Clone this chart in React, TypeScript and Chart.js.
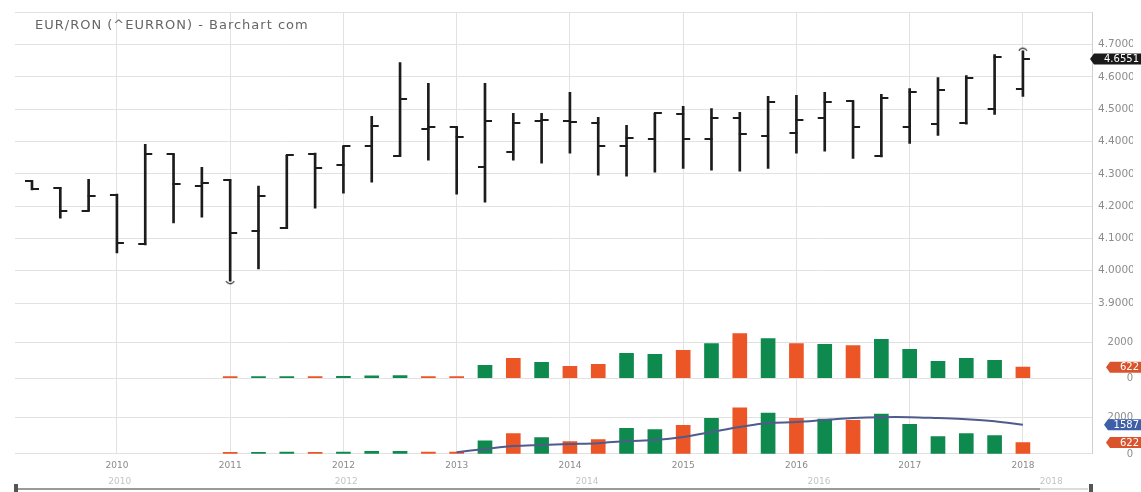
import React, { useEffect, useRef } from 'react';
import { Chart, registerables } from 'chart.js';

Chart.register(...registerables);

// ---- data (quarterly bars, 2009 Q2 .. 2018 Q1) ----
const quarters = [
  '2009-Q2', '2009-Q3', '2009-Q4',
  '2010-Q1', '2010-Q2', '2010-Q3', '2010-Q4',
  '2011-Q1', '2011-Q2', '2011-Q3', '2011-Q4',
  '2012-Q1', '2012-Q2', '2012-Q3', '2012-Q4',
  '2013-Q1', '2013-Q2', '2013-Q3', '2013-Q4',
  '2014-Q1', '2014-Q2', '2014-Q3', '2014-Q4',
  '2015-Q1', '2015-Q2', '2015-Q3', '2015-Q4',
  '2016-Q1', '2016-Q2', '2016-Q3', '2016-Q4',
  '2017-Q1', '2017-Q2', '2017-Q3', '2017-Q4',
  '2018-Q1',
];

const opens = [
  4.277, 4.256, 4.185, 4.234, 4.083, 4.360, 4.262, 4.280, 4.123, 4.132, 4.360, 4.327,
  4.385, 4.354, 4.438, 4.444, 4.320, 4.367, 4.465, 4.465, 4.456, 4.385, 4.407, 4.484,
  4.407, 4.472, 4.416, 4.425, 4.472, 4.524, 4.354, 4.444, 4.453, 4.456, 4.502, 4.564,
];
const highs = [
  4.279, 4.258, 4.283, 4.237, 4.391, 4.362, 4.320, 4.282, 4.262, 4.357, 4.364, 4.385,
  4.478, 4.644, 4.580, 4.446, 4.580, 4.487, 4.487, 4.552, 4.475, 4.450, 4.487, 4.509,
  4.502, 4.490, 4.540, 4.543, 4.552, 4.526, 4.546, 4.564, 4.598, 4.604, 4.669, 4.681,
];
const lows = [
  4.250, 4.163, 4.185, 4.055, 4.080, 4.148, 4.166, 3.968, 4.006, 4.130, 4.194, 4.240,
  4.274, 4.354, 4.342, 4.237, 4.212, 4.342, 4.333, 4.364, 4.296, 4.293, 4.305, 4.317,
  4.311, 4.308, 4.317, 4.364, 4.370, 4.348, 4.352, 4.394, 4.419, 4.454, 4.484, 4.540,
];
const closes = [
  4.252, 4.185, 4.231, 4.086, 4.360, 4.268, 4.271, 4.117, 4.231, 4.357, 4.317, 4.385,
  4.447, 4.533, 4.444, 4.413, 4.462, 4.456, 4.468, 4.459, 4.385, 4.410, 4.487, 4.407,
  4.472, 4.422, 4.521, 4.468, 4.521, 4.444, 4.536, 4.552, 4.558, 4.598, 4.663, 4.6551,
];

const volumes = [
  null, null, null, null, null, null, null,
  90, 90, 100, 90, 110, 140, 150, 100, 100,
  720, 1110, 890, 670, 780, 1390, 1330, 1560, 1940, 2500, 2220, 1940, 1890, 1830,
  2170, 1610, 940, 1110, 1000, 622,
];
// 'u' = green (up), 'd' = red (down)
const volumeDirection = [
  '', '', '', '', '', '', '',
  'd', 'u', 'u', 'd', 'u', 'u', 'u', 'd', 'd',
  'u', 'd', 'u', 'd', 'd', 'u', 'u', 'd', 'u', 'd', 'u', 'd', 'u', 'd',
  'u', 'u', 'u', 'u', 'u', 'd',
];
const volumeAverage = [
  null, null, null, null, null, null, null, null, null, null, null, null, null, null, null,
  100, 270, 430, 490, 540, 590, 700, 760, 920, 1190, 1460, 1680, 1730, 1840, 1950,
  2000, 2000, 1950, 1890, 1780, 1587,
];

const priceTicks = [3.9, 4.0, 4.1, 4.2, 4.3, 4.4, 4.5, 4.6, 4.7, 4.8];
const volumeTicks = [0, 2000];
const navigatorLabels = ['2010', '2012', '2014', '2016', '2018'];
const title = 'EUR/RON (^EURRON) - Barchart com';

const GREEN = '#0f8a4f';
const RED = '#ec5526';
const GRID = '#e2e2e2';
const FONT = 'DejaVu Sans';

function tickImage(side: 'left' | 'right') {
  const c = document.createElement('canvas');
  c.width = 16;
  c.height = 2;
  const g = c.getContext('2d')!;
  g.fillStyle = '#1c1c1c';
  if (side === 'left') g.fillRect(1, 0, 8, 2);
  else g.fillRect(7, 0, 8, 2);
  return c;
}

function arcImage(kind: 'low' | 'high') {
  const c = document.createElement('canvas');
  c.width = 12;
  c.height = 12;
  const g = c.getContext('2d')!;
  g.strokeStyle = '#333';
  g.lineWidth = 1.3;
  g.beginPath();
  if (kind === 'low') g.arc(6, 4, 4.5, 0.15 * Math.PI, 0.85 * Math.PI);
  else g.arc(6, 8, 4.5, 1.15 * Math.PI, 1.85 * Math.PI);
  g.stroke();
  return c;
}

function drawTag(ctx: CanvasRenderingContext2D, left: number, right: number, y: number, text: string, bg: string) {
  const h = 11;
  ctx.save();
  ctx.fillStyle = bg;
  ctx.beginPath();
  ctx.moveTo(left, y);
  ctx.lineTo(left + 4, y - h / 2);
  ctx.lineTo(right, y - h / 2);
  ctx.lineTo(right, y + h / 2);
  ctx.lineTo(left + 4, y + h / 2);
  ctx.closePath();
  ctx.fill();
  ctx.fillStyle = '#fff';
  ctx.font = `10px ${FONT}`;
  ctx.textAlign = 'right';
  ctx.textBaseline = 'middle';
  ctx.fillText(text, right - 2, y + 0.5);
  ctx.restore();
}

const overlay = {
  id: 'overlay',
  afterDraw(chart: any) {
    const ctx = chart.ctx as CanvasRenderingContext2D;
    const x = chart.scales.x;
    const y = chart.scales.y;
    const v1 = chart.scales.v1;
    const v2 = chart.scales.v2;
    const last = quarters.length - 1;
    ctx.save();
    // title
    ctx.fillStyle = '#666';
    ctx.font = `13px ${FONT}`;
    (ctx as any).letterSpacing = '1px';
    ctx.textBaseline = 'middle';
    ctx.textAlign = 'left';
    ctx.fillText(title, 35, 26);
    (ctx as any).letterSpacing = '0px';

    // last-value tags
    drawTag(ctx, 1090, 1141, y.getPixelForValue(closes[last]), closes[last].toFixed(4), '#1a1a1a');
    drawTag(ctx, 1106, 1141, v1.getPixelForValue(volumes[last] as number), String(volumes[last]), '#d9532c');
    drawTag(ctx, 1104, 1141, v2.getPixelForValue(volumeAverage[last] as number), String(volumeAverage[last]), '#3d5fa8');
    drawTag(ctx, 1106, 1141, v2.getPixelForValue(volumes[last] as number), String(volumes[last]), '#d9532c');

    // navigator
    ctx.strokeStyle = '#9a9a9a';
    ctx.lineWidth = 2;
    ctx.beginPath();
    ctx.moveTo(18, 489);
    ctx.lineTo(1040, 489);
    ctx.stroke();
    ctx.strokeStyle = '#dcdcdc';
    ctx.beginPath();
    ctx.moveTo(1040, 489);
    ctx.lineTo(1088, 489);
    ctx.stroke();
    ctx.fillStyle = '#555';
    ctx.fillRect(14, 484, 4, 8);
    ctx.fillRect(1089, 484, 4, 8);
    ctx.fillStyle = '#c4c4c4';
    ctx.font = `9px ${FONT}`;
    ctx.textAlign = 'center';
    const navPos = [3.1, 11.1, 19.6, 27.8, 36.0];
    navigatorLabels.forEach((t, i) => ctx.fillText(t, x.getPixelForValue(navPos[i]), 482));
    ctx.restore();
  },
};

const idx = quarters.map((_, i) => i);
const yearTickIdx = idx.filter((i) => quarters[i].endsWith('Q1'));

export default function App() {
  const ref = useRef<HTMLCanvasElement>(null);
  useEffect(() => {
    const canvas = ref.current!;
    const openImg = tickImage('left');
    const closeImg = tickImage('right');
    const lowIdx = lows.indexOf(Math.min(...lows));
    const highIdx = highs.indexOf(Math.max(...highs));
    const volColors = volumeDirection.map((d) => (d === 'u' ? GREEN : RED));
    const rightTicks = (font: number, cross: 'near' | 'far') => ({
      font: { family: FONT, size: font },
      color: '#8c8c8c',
      padding: 6,
      crossAlign: cross,
      autoSkip: false,
    });
    const chart = new Chart(canvas, {
      type: 'bar',
      data: {
        datasets: [
          {
            type: 'line', label: 'open', yAxisID: 'y', xAxisID: 'x',
            data: idx.map((i) => ({ x: i, y: opens[i] })),
            showLine: false, pointStyle: openImg as any, pointRadius: 3,
          },
          {
            type: 'line', label: 'close', yAxisID: 'y', xAxisID: 'x',
            data: idx.map((i) => ({ x: i, y: closes[i] })),
            showLine: false, pointStyle: closeImg as any, pointRadius: 3,
          },
          {
            type: 'line', label: 'lowest', yAxisID: 'y', xAxisID: 'x',
            data: [{ x: lowIdx, y: lows[lowIdx] }],
            showLine: false, pointStyle: arcImage('low') as any, pointRadius: 3,
          },
          {
            type: 'line', label: 'highest', yAxisID: 'y', xAxisID: 'x',
            data: [{ x: highIdx, y: highs[highIdx] }],
            showLine: false, pointStyle: arcImage('high') as any, pointRadius: 3,
          },
          {
            type: 'line', label: 'volume average', yAxisID: 'v2', xAxisID: 'x',
            data: idx.map((i) => ({ x: i, y: volumeAverage[i] })),
            borderColor: '#4f5b8c', borderWidth: 2, pointRadius: 0, tension: 0.35,
          },
          {
            type: 'bar', label: 'range', yAxisID: 'y', xAxisID: 'x',
            data: idx.map((i) => ({ x: i, y: [lows[i], highs[i]] })) as any,
            backgroundColor: '#1c1c1c', barThickness: 2, grouped: false,
          },
          {
            type: 'bar', label: 'volume', yAxisID: 'v1', xAxisID: 'x',
            data: idx.map((i) => ({ x: i, y: volumes[i] })) as any,
            backgroundColor: volColors, barThickness: 14, grouped: false,
          },
          {
            type: 'bar', label: 'volume 2', yAxisID: 'v2', xAxisID: 'x',
            data: idx.map((i) => ({ x: i, y: volumes[i] })) as any,
            backgroundColor: volColors, barThickness: 14, grouped: false,
          },
        ],
      },
      options: {
        animation: false,
        responsive: false,
        events: [],
        layout: { padding: { left: 15, top: 10.6, right: 8, bottom: 0 } },
        plugins: { legend: { display: false }, tooltip: { enabled: false } },
        scales: {
          x: {
            type: 'linear', position: 'bottom', min: -0.6, max: 37.44, offset: false,
            afterBuildTicks: (s: any) => { s.ticks = yearTickIdx.map((v) => ({ value: v })); },
            afterFit: (s: any) => { s.height = 38; },
            ticks: {
              font: { family: FONT, size: 9 }, color: '#8a8a8a', padding: 6,
              maxRotation: 0, autoSkip: false,
              callback: (v: any) => {
                const q = quarters[Math.round(Number(v))];
                return q ? q.slice(0, 4) : '';
              },
            },
            grid: { color: GRID, drawTicks: false, offset: false },
            border: { display: false },
          },
          y: {
            type: 'linear', position: 'right', stack: 'panes', stackWeight: 308.1,
            min: 3.85, max: 4.8,
            afterBuildTicks: (s: any) => { s.ticks = priceTicks.map((v) => ({ value: v })); },
            afterFit: (s: any) => { s.width = 41; },
            ticks: {
              ...rightTicks(10.5, 'near'),
              callback: (v: any) => (Number(v) > 4.75 ? '' : Number(v).toFixed(4)),
            },
            grid: { color: GRID, drawTicks: false },
            border: { color: '#d0d0d0' },
          },
          v1: {
            type: 'linear', position: 'right', stack: 'panes', stackWeight: 59.3,
            min: 0, max: 3294,
            afterBuildTicks: (s: any) => { s.ticks = volumeTicks.map((v) => ({ value: v })); },
            afterFit: (s: any) => { s.width = 41; },
            ticks: { ...rightTicks(10, 'far'), callback: (v: any) => String(v) },
            grid: { color: GRID, drawTicks: false },
            border: { color: '#d0d0d0' },
          },
          v2: {
            type: 'linear', position: 'right', stack: 'panes', stackWeight: 76,
            min: 0, max: 4108,
            afterBuildTicks: (s: any) => { s.ticks = volumeTicks.map((v) => ({ value: v })); },
            afterFit: (s: any) => { s.width = 41; },
            ticks: { ...rightTicks(10, 'far'), callback: (v: any) => String(v) },
            grid: { color: GRID, drawTicks: false },
            border: { color: '#d0d0d0' },
          },
        },
      } as any,
      plugins: [overlay],
    });
    return () => chart.destroy();
  }, []);

  return (
    <div style={{ position: 'fixed', left: 0, top: 0, width: 1141, height: 492, background: '#fff' }}>
      <canvas ref={ref} width={1141} height={492} style={{ display: 'block', width: 1141, height: 492 }} />
    </div>
  );
}
